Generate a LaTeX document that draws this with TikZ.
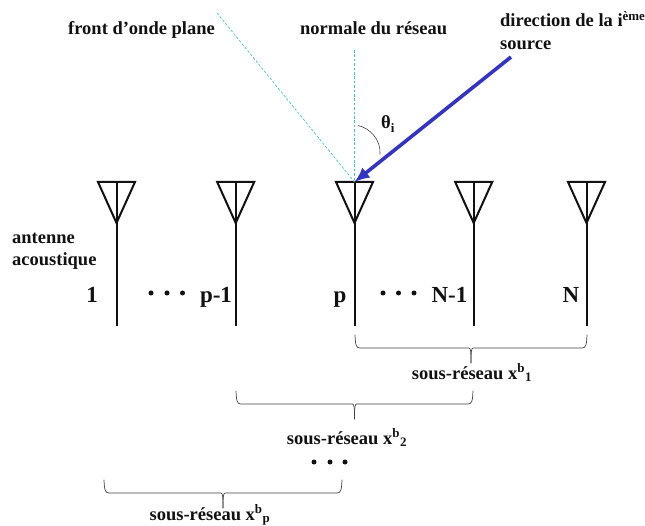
\documentclass[tikz,border=0pt]{standalone}
\usepackage{fontspec}
\setmainfont{Liberation Serif}
\usepackage{xcolor}
\usetikzlibrary{arrows.meta,positioning,calc}
\definecolor{wave}{HTML}{45C9B5}
\definecolor{source}{HTML}{3333C4}
\definecolor{ink}{HTML}{111111}
\tikzset{
    every picture/.style={line cap=round,line join=round},
    antline/.style={draw=ink,line width=2pt,line join=miter,line cap=butt},
    waveline/.style={draw=wave,line width=0.7pt,dash pattern=on 2.6pt off 1.8pt,line cap=butt},
    sourcearrow/.style={-{Latex[length=15pt,width=13pt]},draw=source,line width=3.6pt,line cap=butt},
    bracket/.style={draw=ink!80,line width=0.7pt},
    caption/.style={inner sep=0pt,text=ink,font=\fontsize{18.5}{20}\selectfont\bfseries},
    number/.style={inner sep=0pt,text=ink,font=\fontsize{23}{26}\selectfont\bfseries},
    dotnode/.style={circle,fill=ink,inner sep=0pt,minimum size=5pt},
    pics/subbrace/.style={code={
      \draw[bracket] (0,-13) .. controls (0.5,-3) and (1,0) .. (5,0) -- (#1/2-2,0)
        .. controls (#1/2-0.5,0) and (#1/2,3) .. (#1/2,15);
      \draw[bracket] (#1,-13) .. controls (#1-0.5,-3) and (#1-1,0) .. (#1-5,0) -- (#1/2+2,0)
        .. controls (#1/2+0.5,0) and (#1/2,3) .. (#1/2,15);
    }}
}
\begin{document}
\begin{tikzpicture}[x=1pt,y=-1pt]
  \useasboundingbox (0,0) rectangle (645,526);
  % antennas
  \foreach \name/\xpos in {a1/116.5,a2/235.7,a3/354.5,a4/473.7,a5/586.5} {
    \coordinate (\name) at (\xpos,182);
    \draw[antline] (\xpos-18.5,182) -- (\xpos+18.5,182) -- (\xpos,223) -- cycle;
    \draw[antline] (\name) -- (\xpos,326);
  }
  % wave front, normal, source
  \coordinate (front) at (217,13);
  \coordinate (normal) at (354.5,50);
  \coordinate (src) at (511,57);
  \draw[waveline] (front) -- (a3);
  \draw[waveline] (normal) -- (a3);
  \draw[sourcearrow] (src) -- (a3);
  \draw[draw=ink!80,line width=0.6pt] (358,125.5) .. controls (370,128) and (381,140) .. (380,154);
  \node[caption,anchor=base west] (theta) at (381,129) {θ\textsubscript{i}};
  % captions
  \node[caption,anchor=base west] (frontlabel) at (68,35) {front d’onde plane};
  \node[caption,anchor=base west] (normallabel) at (300,35) {normale du réseau};
  \node[caption,anchor=base west] (srclabel) at (500,27) {direction de la i\textsuperscript{ème}};
  \node[caption,anchor=base west] (srclabel2) at (500,50) {source};
  \node[caption,anchor=base west] (antlabel) at (12,244) {antenne};
  \node[caption,anchor=base west] (antlabel2) at (12,266) {acoustique};
  % numbers
  \node[number,anchor=base] (n1) at (92,303) {1};
  \node[number,anchor=base] (np1) at (216,303) {p-1};
  \node[number,anchor=base] (np) at (340,303) {p};
  \node[number,anchor=base] (nn1) at (449.5,303) {N-1};
  \node[number,anchor=base] (nn) at (571,303) {N};
  % dots
  \foreach \xpos in {151,167,182.5} \node[dotnode] (d\xpos) at (\xpos,293) {};
  \foreach \xpos in {383,398.5,414} \node[dotnode] (e\xpos) at (\xpos,293) {};
  \foreach \xpos in {314,330,345} \node[dotnode] (f\xpos) at (\xpos,462) {};
  % sub-arrays
  \pic at (355,348) {subbrace=232};
  \node[caption,anchor=base] (sub1) at (472,379) {sous-réseau x\textsuperscript{b}\textsubscript{1}};
  \pic at (236,404) {subbrace=237};
  \node[caption,anchor=base] (sub2) at (347,444) {sous-réseau x\textsuperscript{b}\textsubscript{2}};
  \pic at (104,493) {subbrace=238};
  \node[caption,anchor=base] (subp) at (210,520) {sous-réseau x\textsuperscript{b}\textsubscript{p}};
\end{tikzpicture}
\end{document}
